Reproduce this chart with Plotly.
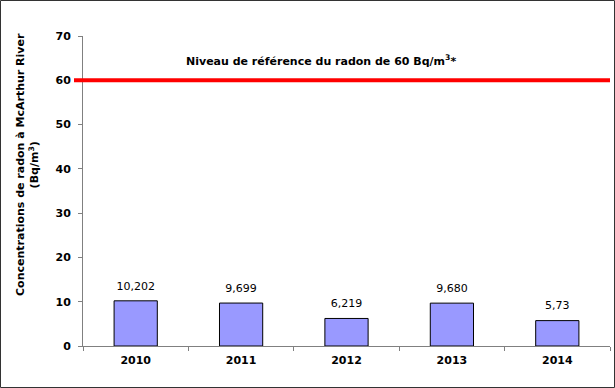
import plotly.graph_objects as go

years = ["2010", "2011", "2012", "2013", "2014"]
radon = [10.202, 9.699, 6.219, 9.680, 5.73]
radon_labels = ["10,202", "9,699", "6,219", "9,680", "5,73"]
reference_level = 60
reference_text = "Niveau de référence du radon de 60 Bq/m<sup>3</sup>*"
y_title = "Concentrations de radon à McArthur River<br>(Bq/m<sup>3</sup>)"

W, H = 615, 388
ml, mr, mt, mb = 83, 5, 36, 42
pw, ph = W - ml - mr, H - mt - mb

FONT = "DejaVu Sans"

fig = go.Figure()
fig.add_trace(go.Bar(
    x=years, y=radon,
    marker=dict(color="#9999FF", line=dict(color="black", width=1)),
    width=0.41, hoverinfo="skip",
))
fig.add_trace(go.Scatter(
    x=years, y=radon, text=radon_labels, mode="markers+text", textposition="top center",
    marker=dict(size=12, opacity=0), cliponaxis=False,
    textfont=dict(family=FONT, size=11, color="black"),
))

fig.add_shape(type="line", xref="paper", yref="y",
              x0=-9 / pw, x1=1.0, y0=reference_level, y1=reference_level,
              line=dict(color="#FF0000", width=4))

fig.add_annotation(xref="paper", yref="y", x=(321 - ml) / pw, y=reference_level + 4.5,
                   text="<b>" + reference_text + "</b>", showarrow=False,
                   font=dict(family=FONT, size=11, color="black"))

fig.add_annotation(xref="paper", yref="paper", x=-(83 - 27) / pw, y=(346 - 165) / ph,
                   xanchor="center", yanchor="middle",
                   text="<b>" + y_title + "</b>", textangle=-90, showarrow=False,
                   font=dict(family=FONT, size=11, color="black"), align="center")

# outer border
fig.add_shape(type="rect", xref="paper", yref="paper",
              x0=-(ml - 0.5) / pw, x1=1 + (mr - 0.5) / pw,
              y0=-(mb - 0.5) / ph, y1=1 + (mt - 0.5) / ph,
              line=dict(color="#333333", width=1))

fig.update_layout(
    width=W, height=H, margin=dict(l=ml, r=mr, t=mt, b=mb),
    plot_bgcolor="white", paper_bgcolor="white", showlegend=False,
    font=dict(family=FONT, size=11, color="black"),
    xaxis=dict(showline=True, linecolor="#808080", ticks="outside", tickson="boundaries",
               ticklen=4, tickcolor="#808080", showgrid=False, automargin=False,
               ticklabelstandoff=4,
               tickfont=dict(family=FONT, size=11, color="black"), tickprefix="<b>", ticksuffix="</b>"),
    yaxis=dict(range=[0, 70], dtick=10, showline=True, linecolor="#808080", ticks="outside",
               ticklen=4, tickcolor="#808080", showgrid=False, zeroline=False, automargin=False,
               ticklabelstandoff=5,
               tickfont=dict(family=FONT, size=11, color="black"), tickprefix="<b>", ticksuffix="</b>"),
)

fig.write_html("out.html", config={"displayModeBar": False},
               post_script="document.body.style.margin='0';document.body.style.overflow='hidden';")
